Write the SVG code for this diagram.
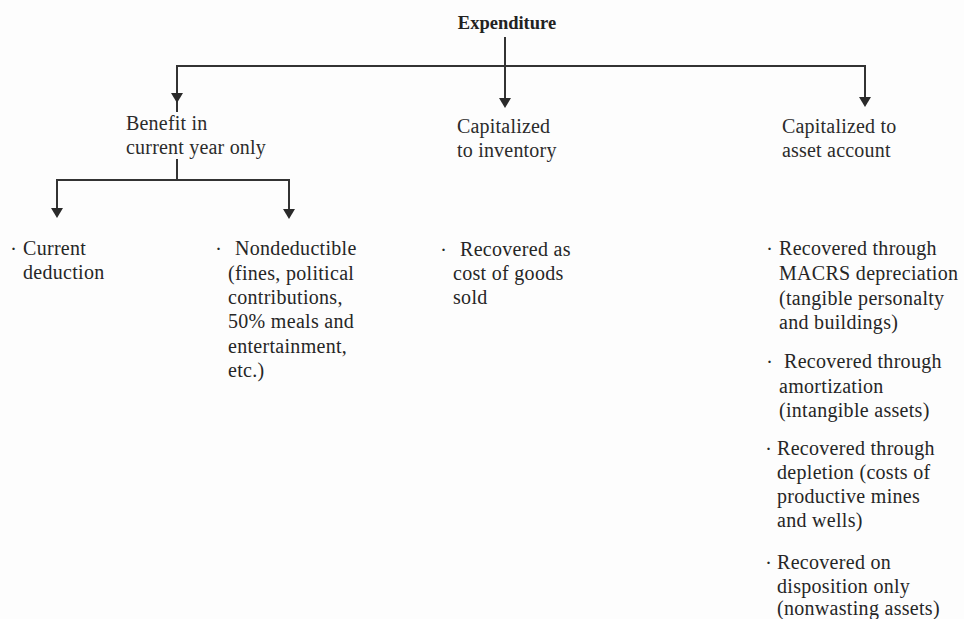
<svg xmlns="http://www.w3.org/2000/svg" xmlns:xlink="http://www.w3.org/1999/xlink" width="964" height="619" viewBox="0 0 964 619">
  <style>
    .wire { fill: none; stroke: #333; stroke-width: 2; }
    .head { fill: #2a2a2a; }
    text { font-family: "Liberation Serif", "Times New Roman", Times, serif; }
    .title { font-size: 18.5px; font-weight: bold; fill: #222; }
    .cat { font-size: 20px; letter-spacing: 0.2px; fill: #2b2b2b; }
    .body { font-size: 20px; letter-spacing: 0.3px; fill: #262626; }
    .dot { font-size: 15px; font-weight: bold; }
  </style>
  <defs>
    <path id="arrowhead" class="head" d="M-6,-10 L6,-10 L0,0 Z"/>
  </defs>

  <rect width="964" height="619" fill="#fdfdfd"/>

  <!-- connectors -->
  <g id="connectors">
    <path class="wire" d="M505,37 V104"/>
    <path class="wire" d="M177,112 V66 H865 V103"/>
    <path class="wire" d="M177,159 V180"/>
    <path class="wire" d="M57,214 V180 H289 V215"/>
    <use xlink:href="#arrowhead" x="505" y="108"/>
    <use xlink:href="#arrowhead" x="177" y="103"/>
    <use xlink:href="#arrowhead" x="865" y="107"/>
    <use xlink:href="#arrowhead" x="57" y="218"/>
    <use xlink:href="#arrowhead" x="289" y="219"/>
  </g>

  <!-- root -->
  <g id="expenditure">
    <text class="title" x="507" y="29" text-anchor="middle">Expenditure</text>
  </g>

  <!-- first level -->
  <g id="benefit-current-year">
    <text class="cat" x="126" y="130">Benefit in</text>
    <text class="cat" x="126" y="154">current year only</text>
  </g>
  <g id="capitalized-inventory">
    <text class="cat" x="457" y="133">Capitalized</text>
    <text class="cat" x="457" y="157">to inventory</text>
  </g>
  <g id="capitalized-asset">
    <text class="cat" x="782" y="133">Capitalized to</text>
    <text class="cat" x="782" y="157">asset account</text>
  </g>

  <!-- second level -->
  <g id="current-deduction">
    <text class="body" y="255"><tspan class="dot" x="11" dy="-1">·</tspan><tspan x="23" dy="1">Current</tspan></text>
    <text class="body" x="23" y="279">deduction</text>
  </g>
  <g id="nondeductible">
    <text class="body" y="255"><tspan class="dot" x="216" dy="-1">·</tspan><tspan x="235" dy="1">Nondeductible</tspan></text>
    <text class="body" x="228" y="280">(fines, political</text>
    <text class="body" x="228" y="304">contributions,</text>
    <text class="body" x="228" y="328">50% meals and</text>
    <text class="body" x="228" y="353">entertainment,</text>
    <text class="body" x="228" y="377">etc.)</text>
  </g>
  <g id="cost-of-goods-sold">
    <text class="body" y="256"><tspan class="dot" x="441" dy="-1">·</tspan><tspan x="460" dy="1">Recovered as</tspan></text>
    <text class="body" x="453" y="280">cost of goods</text>
    <text class="body" x="453" y="304">sold</text>
  </g>
  <g id="macrs-depreciation">
    <text class="body" y="255"><tspan class="dot" x="767" dy="-1">·</tspan><tspan x="779" dy="1">Recovered through</tspan></text>
    <text class="body" x="779" y="280">MACRS depreciation</text>
    <text class="body" x="779" y="305">(tangible personalty</text>
    <text class="body" x="779" y="329">and buildings)</text>
  </g>
  <g id="amortization">
    <text class="body" y="368"><tspan class="dot" x="767" dy="-1">·</tspan><tspan x="784" dy="1">Recovered through</tspan></text>
    <text class="body" x="779" y="393">amortization</text>
    <text class="body" x="779" y="417">(intangible assets)</text>
  </g>
  <g id="depletion">
    <text class="body" y="455"><tspan class="dot" x="766" dy="-1">·</tspan><tspan x="777" dy="1">Recovered through</tspan></text>
    <text class="body" x="777" y="479">depletion (costs of</text>
    <text class="body" x="777" y="503">productive mines</text>
    <text class="body" x="777" y="527">and wells)</text>
  </g>
  <g id="disposition">
    <text class="body" y="569"><tspan class="dot" x="766" dy="-1">·</tspan><tspan x="777" dy="1">Recovered on</tspan></text>
    <text class="body" x="777" y="593">disposition only</text>
    <text class="body" x="777" y="615">(nonwasting assets)</text>
  </g>
</svg>
